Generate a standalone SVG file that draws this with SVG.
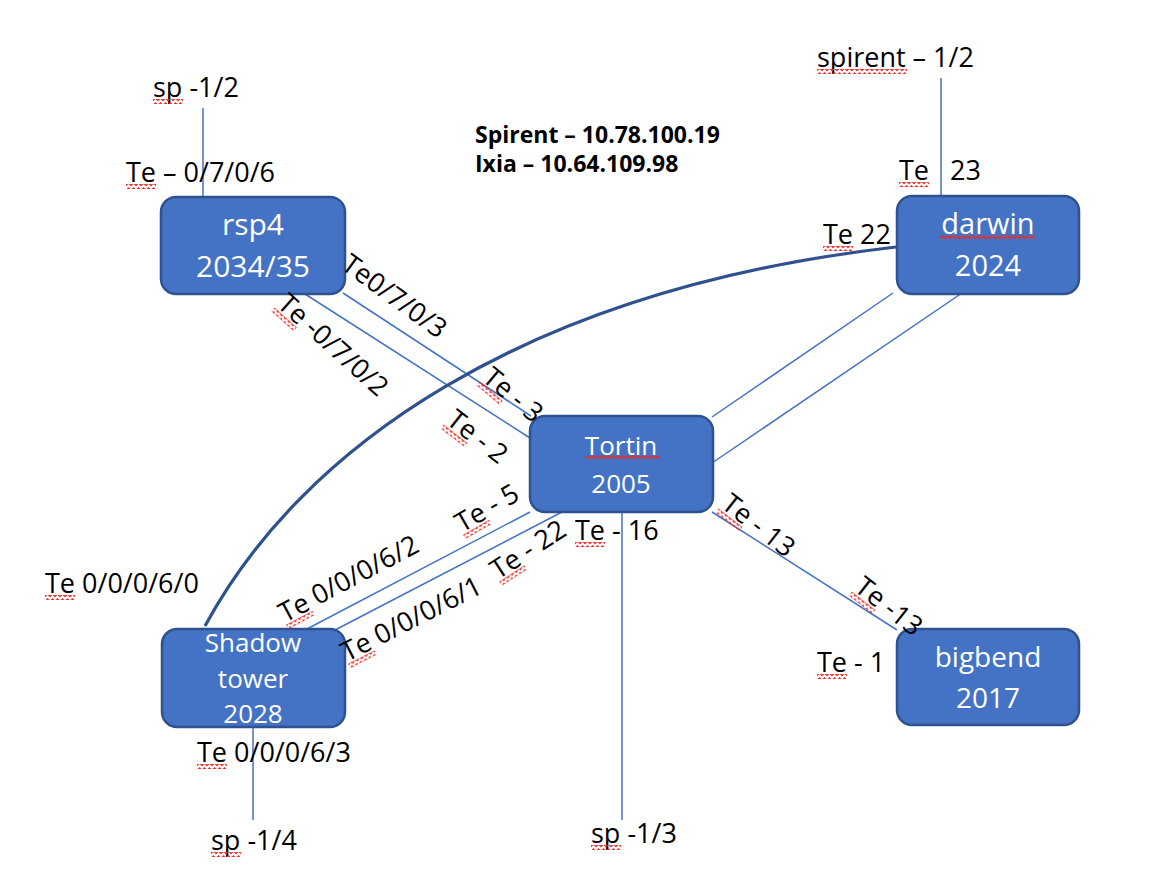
<svg xmlns="http://www.w3.org/2000/svg" width="1158" height="878" viewBox="0 0 1158 878">
<style>
.box{fill:#4472C4;stroke:#2F528F;stroke-width:2.5}
.nt{font-family:"Open Sans","Liberation Sans",sans-serif;fill:#ffffff;text-anchor:middle}
.lbl{font-family:"Open Sans","Liberation Sans",sans-serif;font-size:27px;fill:#000000}
.bold{font-family:"Open Sans","Liberation Sans",sans-serif;font-size:23px;font-weight:bold;fill:#000000}
.ln{fill:none;stroke:#4472C4;stroke-width:1.5}
.thick{fill:none;stroke:#2F528F;stroke-width:3.2}
.sq{fill:url(#wavy);stroke:none}
</style>
<defs>
<pattern id="wavy" x="0" y="0" width="5" height="5" patternUnits="userSpaceOnUse">
<path d="M-0.5,4 L2.5,1 L5.5,4" fill="none" stroke="#ee2a24" stroke-width="1.3"/>
</pattern>
</defs>
<rect width="1158" height="878" fill="#ffffff"/>
<g id="connectors">
<path class="ln" d="M203,108 V197"/>
<path class="ln" d="M941,78 V196"/>
<path class="ln" d="M343,293 L531,416"/>
<path class="ln" d="M305,294 L530,438"/>
<path class="ln" d="M712,417 L893,293"/>
<path class="ln" d="M712,463 L962,293"/>
<path class="ln" d="M712,512 L897,630"/>
<path class="ln" d="M530,512 L305,630"/>
<path class="ln" d="M562,512 L335,630"/>
<path class="ln" d="M622,512 V820"/>
<path class="ln" d="M253,727 V820"/>
<path class="thick" d="M205,626 C300,450 520,290 896,247"/>
</g>
<g id="node-rsp4">
<rect class="box" x="161" y="197" width="184" height="97" rx="15"/>
<text class="nt" x="253" y="235" font-size="30">rsp4</text>
<text class="nt" x="253" y="277" font-size="30">2034/35</text>
</g>
<g id="node-darwin">
<rect class="box" x="897" y="196" width="182" height="98" rx="15"/>
<text class="nt" x="988" y="234" font-size="29">darwin</text>
<rect class="sq" x="940" y="235" width="95" height="5"/>
<text class="nt" x="988" y="276" font-size="29">2024</text>
</g>
<g id="node-tortin">
<rect class="box" x="530" y="416" width="183" height="96" rx="15"/>
<text class="nt" x="621" y="455" font-size="26">Tortin</text>
<rect class="sq" x="585" y="455" width="75" height="5"/>
<text class="nt" x="621" y="493" font-size="26">2005</text>
</g>
<g id="node-shadow">
<rect class="box" x="162" y="629" width="183" height="98" rx="15"/>
<text class="nt" x="253" y="652" font-size="26">Shadow</text>
<text class="nt" x="253" y="688" font-size="26">tower</text>
<text class="nt" x="253" y="723" font-size="26">2028</text>
</g>
<g id="node-bigbend">
<rect class="box" x="897" y="629" width="182" height="96" rx="15"/>
<text class="nt" x="988" y="667" font-size="28">bigbend</text>
<text class="nt" x="988" y="708" font-size="28">2017</text>
</g>
<g id="labels">
<text class="bold" x="475" y="143">Spirent – 10.78.100.19</text>
<text class="bold" x="475" y="172">Ixia – 10.64.109.98</text>
<g transform="translate(153,97)"><text class="lbl">sp -1/2</text><rect class="sq" x="0" y="2" width="30" height="5"/></g>
<g transform="translate(126,182)"><text class="lbl">Te – 0/7/0/6</text><rect class="sq" x="0" y="2" width="30" height="5"/></g>
<g transform="translate(817,67)"><text class="lbl">spirent – 1/2</text><rect class="sq" x="0" y="2" width="90" height="5"/></g>
<g transform="translate(899,180)"><text class="lbl">Te</text><text class="lbl" x="51">23</text><rect class="sq" x="0" y="2" width="30" height="5"/></g>
<g transform="translate(823,244)"><text class="lbl">Te 22</text><rect class="sq" x="0" y="2" width="30" height="5"/></g>
<g transform="translate(340,268) rotate(36)"><text class="lbl">Te0/7/0/3</text></g>
<g transform="translate(276,306) rotate(42)"><text class="lbl">Te -0/7/0/2</text><rect class="sq" x="0" y="2" width="30" height="5"/></g>
<g transform="translate(481,380) rotate(40)"><text class="lbl">Te - 3</text><rect class="sq" x="0" y="2" width="30" height="5"/></g>
<g transform="translate(445,423) rotate(38)"><text class="lbl">Te - 2</text><rect class="sq" x="0" y="2" width="30" height="5"/></g>
<g transform="translate(720,507) rotate(38)"><text class="lbl">Te - 13</text><rect class="sq" x="0" y="2" width="30" height="5"/></g>
<g transform="translate(853,590) rotate(38)"><text class="lbl">Te -13</text><rect class="sq" x="0" y="2" width="30" height="5"/></g>
<g transform="translate(817,672)"><text class="lbl">Te - 1</text><rect class="sq" x="0" y="2" width="30" height="5"/></g>
<g transform="translate(575,540)"><text class="lbl">Te - 16</text><rect class="sq" x="0" y="2" width="30" height="5"/></g>
<g transform="translate(462,533) rotate(-30)"><text class="lbl">Te - 5</text><rect class="sq" x="0" y="2" width="30" height="5"/></g>
<g transform="translate(285,623) rotate(-28)"><text class="lbl">Te 0/0/0/6/2</text><rect class="sq" x="0" y="2" width="30" height="5"/></g>
<g transform="translate(347,662) rotate(-27)"><text class="lbl">Te 0/0/0/6/1</text><rect class="sq" x="0" y="2" width="30" height="5"/></g>
<g transform="translate(498,580) rotate(-33)"><text class="lbl">Te - 22</text><rect class="sq" x="0" y="2" width="30" height="5"/></g>
<g transform="translate(45,593)"><text class="lbl">Te 0/0/0/6/0</text><rect class="sq" x="0" y="2" width="30" height="5"/></g>
<g transform="translate(197,762)"><text class="lbl">Te 0/0/0/6/3</text><rect class="sq" x="0" y="2" width="30" height="5"/></g>
<g transform="translate(211,850)"><text class="lbl">sp -1/4</text><rect class="sq" x="0" y="2" width="30" height="5"/></g>
<g transform="translate(591,843)"><text class="lbl">sp -1/3</text><rect class="sq" x="0" y="2" width="30" height="5"/></g>
</g>
</svg>
